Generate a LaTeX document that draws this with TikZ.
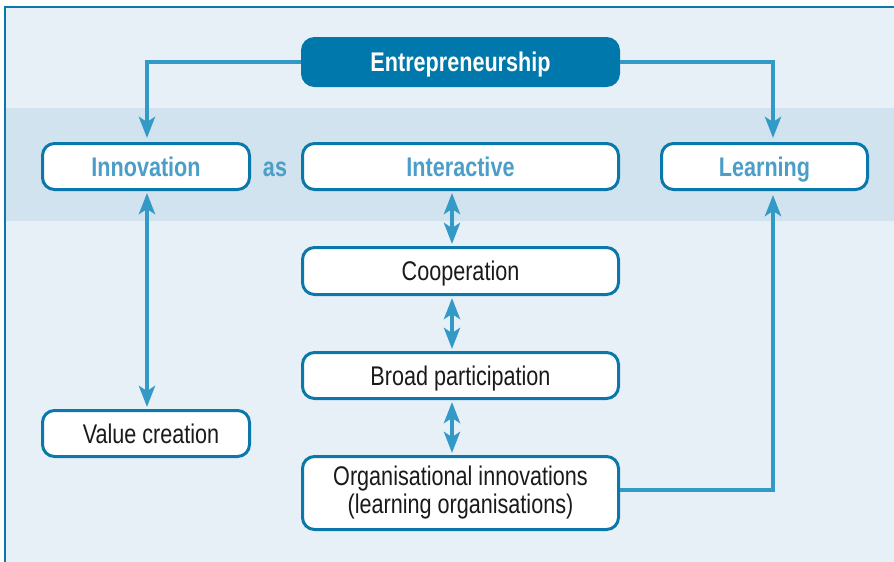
\documentclass[tikz,border=0pt]{standalone}
\usepackage{fontspec}
\setmainfont{Liberation Sans}[FakeStretch=0.8]
\usetikzlibrary{arrows.meta,calc}
\definecolor{bgblue}{HTML}{E8F0F7}
\definecolor{bandblue}{HTML}{D1E3EE}
\definecolor{boxborder}{HTML}{0A78AA}
\definecolor{entfill}{HTML}{0078AB}
\definecolor{arrowblue}{HTML}{3399C6}
\definecolor{labelblue}{HTML}{4B9EC8}
\definecolor{textdark}{HTML}{1A1A1A}
\tikzset{
  boxnode/.style={draw=boxborder, line width=3pt, fill=white, rounded corners=12pt,
    inner sep=0pt, align=center, text=textdark, font=\fontsize{27}{28}\selectfont},
  oneline/.style={text height=19pt, text depth=0pt},
  headnode/.style={boxnode, oneline, text=labelblue, font=\fontsize{27}{28}\selectfont\bfseries},
  entnode/.style={draw=entfill, line width=3pt, fill=entfill, rounded corners=12pt, oneline,
    inner sep=0pt, text=white, font=\fontsize{27}{28}\selectfont\bfseries},
  arr/.style={draw=arrowblue, line width=4pt, -{Stealth[length=21pt,width=16pt,inset=5pt]}, shorten >=4pt},
  darr/.style={draw=arrowblue, line width=4pt, {Stealth[length=21pt,width=16pt,inset=5pt]}-{Stealth[length=21pt,width=16pt,inset=5pt]}, shorten >=2pt, shorten <=2pt}
}
\begin{document}
\begin{tikzpicture}[x=1pt,y=-1pt]
\useasboundingbox (0,0) rectangle (894,562);
\fill[white] (0,0) rectangle (894,562);
\fill[bgblue] (4.5,6.5) rectangle (894,562);
\fill[bandblue] (5.5,108) rectangle (894,221);
\draw[boxborder, line width=2pt] (4.5,562) -- (4.5,6.5) -- (894,6.5);

\node[entnode, minimum width=316pt, minimum height=47pt] (ent) at (460.5,62) {Entrepreneurship};
\node[headnode, minimum width=207pt, minimum height=46pt] (inn) at (146,166.5) {Innovation};
\node[oneline, inner sep=0pt, text=labelblue, font=\fontsize{27}{28}\selectfont\bfseries] (as) at (275,166.5) {as};
\node[headnode, minimum width=316pt, minimum height=46pt] (int) at (460.5,166.5) {Interactive};
\node[headnode, minimum width=206pt, minimum height=46pt] (lea) at (764.5,166.5) {Learning};
\node[boxnode, oneline, minimum width=316pt, minimum height=47pt] (coop) at (460.5,271) {Cooperation};
\node[boxnode, oneline, minimum width=316pt, minimum height=46pt] (broad) at (460.5,375.5) {Broad participation};
\node[boxnode, minimum width=316pt, minimum height=73pt] (org) at (460.5,493) {Organisational innovations\\(learning organisations)};
\node[boxnode, oneline, minimum width=207pt, minimum height=46pt] (val) at (146,433.5) {\hspace*{10pt}Value creation};

\coordinate (ax) at (452,0);
\coordinate (lx) at (773,0);
\coordinate (ix) at (147,0);

\draw[arr] (ent.west) -| (inn.north -| ix);
\draw[arr] (ent.east) -| (lea.north -| lx);
\draw[darr] (inn.south -| ix) -- (val.north -| ix);
\draw[darr] (int.south -| ax) -- (coop.north -| ax);
\draw[darr] (coop.south -| ax) -- (broad.north -| ax);
\draw[darr] (broad.south -| ax) -- (org.north -| ax);
\draw[arr] ($(org.east)+(0,-3)$) -| (lea.south -| lx);
\end{tikzpicture}
\end{document}
